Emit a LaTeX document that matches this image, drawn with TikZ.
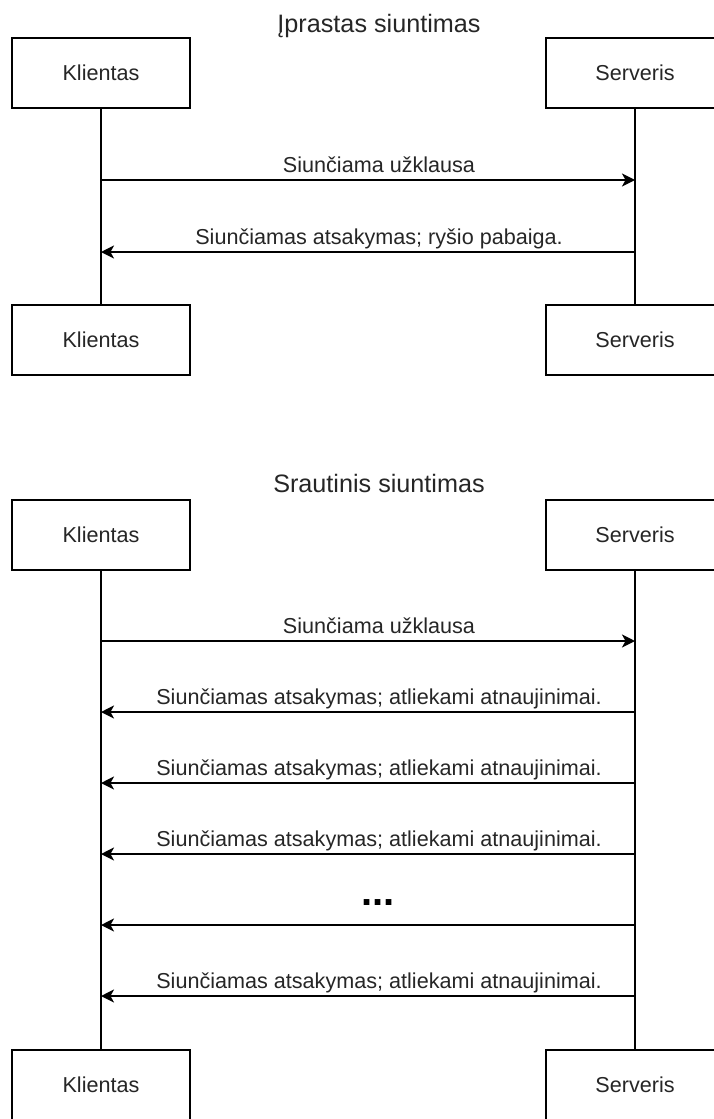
\documentclass[tikz,border=0pt]{standalone}
\usepackage{fontspec}
\setmainfont{Liberation Sans}
\usetikzlibrary{arrows.meta}
\newcommand{\lblfont}{\fontsize{21.6}{26}\selectfont}
\newcommand{\ttlfont}{\fontsize{25.2}{30}\selectfont}
\begin{document}
\begin{tikzpicture}[x=1pt,y=-1pt,
  actor/.style={draw=black, line width=1.6pt, minimum width=178pt, minimum height=70pt, inner sep=0pt, font=\lblfont, text=black!85},
  ttl/.style={anchor=base, inner sep=0pt, font=\ttlfont, text=black!85},
  lbl/.style={anchor=base, inner sep=0pt, font=\lblfont, text=black!85},
  life/.style={draw=black, line width=1.6pt},
  msg/.style={draw=black, line width=1.8pt, -{Stealth[length=13pt, width=13pt, inset=3.5pt]}}]
\useasboundingbox (0,0) rectangle (714,1119);
\fill[white] (0,0) rectangle (714,1119);
\clip (0,0) rectangle (714,1119);

% ---------- Diagram 1 ----------
\node[ttl] (t1) at (379,32) {Įprastas siuntimas};
\node[actor] (kt1) at (101,73) {Klientas};
\node[actor] (st1) at (635,73) {Serveris};
\node[actor] (kb1) at (101,340) {Klientas};
\node[actor] (sb1) at (635,340) {Serveris};
\draw[life] (kt1.south) -- (kb1.north);
\draw[life] (st1.south) -- (sb1.north);

\coordinate (a1l) at (101,180); \coordinate (a1r) at (635,180);
\coordinate (a2l) at (101,252); \coordinate (a2r) at (635,252);
\draw[msg] (a1l) -- (a1r);
\node[lbl] (l1) at (379,172) {Siunčiama užklausa};
\draw[msg] (a2r) -- (a2l);
\node[lbl] (l2) at (379,244) {Siunčiamas atsakymas; ryšio pabaiga.};

% ---------- Diagram 2 ----------
\node[ttl] (t2) at (379,492) {Srautinis siuntimas};
\node[actor] (kt2) at (101,535) {Klientas};
\node[actor] (st2) at (635,535) {Serveris};
\node[actor] (kb2) at (101,1085) {Klientas};
\node[actor] (sb2) at (635,1085) {Serveris};
\draw[life] (kt2.south) -- (kb2.north);
\draw[life] (st2.south) -- (sb2.north);

\coordinate (b1l) at (101,641); \coordinate (b1r) at (635,641);
\coordinate (b2l) at (101,712); \coordinate (b2r) at (635,712);
\coordinate (b3l) at (101,783); \coordinate (b3r) at (635,783);
\coordinate (b4l) at (101,854); \coordinate (b4r) at (635,854);
\coordinate (b5l) at (101,925); \coordinate (b5r) at (635,925);
\coordinate (b6l) at (101,996); \coordinate (b6r) at (635,996);

\draw[msg] (b1l) -- (b1r);
\node[lbl] (m1) at (379,633) {Siunčiama užklausa};
\draw[msg] (b2r) -- (b2l);
\node[lbl] (m2) at (379,704) {Siunčiamas atsakymas; atliekami atnaujinimai.};
\draw[msg] (b3r) -- (b3l);
\node[lbl] (m3) at (379,775) {Siunčiamas atsakymas; atliekami atnaujinimai.};
\draw[msg] (b4r) -- (b4l);
\node[lbl] (m4) at (379,846) {Siunčiamas atsakymas; atliekami atnaujinimai.};
\draw[msg] (b5r) -- (b5l);
\node[anchor=base, inner sep=0pt, font=\fontsize{40}{44}\selectfont\bfseries] (m5) at (378,905) {...};
\draw[msg] (b6r) -- (b6l);
\node[lbl] (m6) at (379,988) {Siunčiamas atsakymas; atliekami atnaujinimai.};
\end{tikzpicture}
\end{document}
